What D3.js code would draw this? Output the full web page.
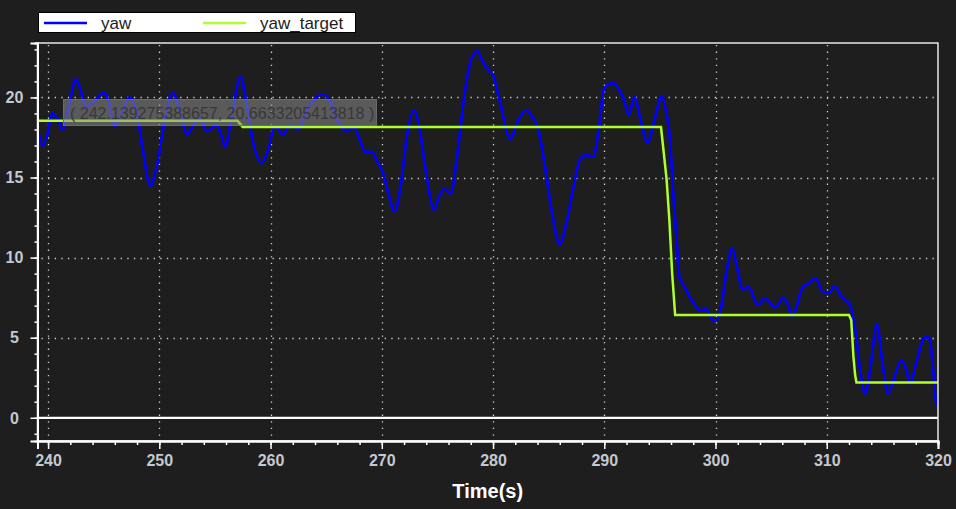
<!DOCTYPE html>
<html>
<head>
<meta charset="utf-8">
<script src="https://cdn.jsdelivr.net/npm/d3@7"></script>
<style>
  body { margin: 0; background: #1e1e1e; }
  svg { display: block; }
</style>
</head>
<body>
<svg id="chart" width="956" height="509"></svg>
<script>
// yaw samples (time in s, value)
var yawTime = [239.05,239.5,239.9,240.4,240.9,241.3,241.8,242.5,243.0,243.4,244.2,245.0,245.5,246.0,246.6,247.3,247.9,248.5,249.2,249.8,250.5,251.2,251.8,252.5,253.0,253.6,254.3,255.1,255.5,255.9,256.5,257.3,257.8,258.4,259.2,259.8,260.4,261.1,261.8,262.4,263.5,264.7,265.3,266.0,266.8,267.5,268.0,268.5,269.1,269.6,270.1,270.6,271.15,271.7,272.3,272.9,273.4,274.0,274.7,275.2,275.6,276.2,276.8,277.4,278.0,278.6,279.1,279.7,280.0,280.6,281.55,282.2,283.0,283.6,284.0,284.6,285.3,286.0,286.6,287.2,287.8,288.3,289.0,289.5,290.0,290.8,291.3,291.7,292.2,292.7,293.2,293.9,294.4,295.2,295.5,295.9,296.2,296.5,296.75,297.2,297.95,298.7,299.2,299.6,300.0,300.5,301.0,301.5,301.9,302.45,302.95,303.8,304.45,305.4,306.1,306.5,306.9,307.3,307.8,308.4,309.0,309.7,310.2,310.7,311.4,312.05,312.6,313.0,313.45,313.9,314.5,315.0,315.5,316.1,316.7,317.1,317.5,318.1,318.8,319.2,319.5,319.8,320];
var yawValues = [18.3,17.0,17.6,19.0,18.6,18.0,19.2,21.15,20.3,19.4,19.8,20.3,19.6,18.2,19.0,20.0,19.3,16.8,14.5,15.8,18.6,20.3,19.3,17.7,18.2,18.7,17.9,18.3,17.8,16.9,18.8,21.3,19.8,17.3,15.9,16.8,18.2,17.7,18.3,18.0,19.5,20.2,19.8,18.6,17.9,18.15,17.4,16.6,16.6,16.0,15.3,14.0,12.9,14.5,17.8,19.2,18.0,15.2,13.0,13.9,14.3,14.0,16.5,20.0,22.3,22.9,22.2,21.6,21.4,19.8,17.4,18.5,19.2,18.7,18.2,16.0,12.8,10.85,12.2,14.3,16.1,16.4,16.3,18.0,20.6,20.9,20.5,20.0,18.9,20.0,18.8,17.15,18.3,20.1,19.3,17.4,14.0,11.1,8.8,8.2,7.25,6.7,6.8,6.2,6.05,6.9,9.2,10.6,9.5,8.0,8.2,7.05,7.45,6.9,7.5,7.1,6.3,7.0,8.1,8.4,8.7,7.8,7.8,8.2,7.5,7.1,5.3,3.0,1.5,3.0,5.85,3.5,1.5,2.6,3.6,3.1,2.15,3.6,5.0,5.0,3.5,1.1,0.7];

var targetTime = [239.05,257.04,257.5,295.1,295.2,295.6,295.85,296.1,296.37,312.0,312.2,312.4,312.55,312.67,320];
var targetValues = [18.54,18.54,18.15,18.15,17.5,14.9,12.35,9.04,6.42,6.42,6.1,3.8,2.67,2.21,2.21];

var seriesNames = ["yaw", "yaw_target"];
var seriesColors = ["#0000ff", "#adff2f"];
var xTicks = [240,250,260,270,280,290,300,310,320];
var yTicks = [0,5,10,15,20];
var tooltipText = "( 242.139275388657, 20.6633205413818 )";

var plotLeft = 37.5, plotRight = 938, plotTop = 43, plotBottom = 441;

var svg = d3.select("#chart");
svg.append("rect").attr("width", 956).attr("height", 509).attr("fill", "#1e1e1e");

var x = d3.scaleLinear().domain([239.05, 320]).range([plotLeft, plotRight]);
var y = d3.scaleLinear().domain([-1.45, 23.4]).range([plotBottom, plotTop]);

svg.append("clipPath").attr("id", "plotClip")
  .append("rect").attr("x", plotLeft).attr("y", plotTop)
  .attr("width", plotRight - plotLeft).attr("height", plotBottom - plotTop);

// dotted grid
var grid = svg.append("g").attr("stroke", "#d0d0d0").attr("stroke-width", 1.3)
  .attr("stroke-dasharray", "1.3,5.3");
grid.selectAll(".vg").data(xTicks.filter(function(d){ return d < 320; }))
  .enter().append("line")
  .attr("x1", function(d){ return Math.round(x(d)) + 0.5; })
  .attr("x2", function(d){ return Math.round(x(d)) + 0.5; })
  .attr("y1", plotTop + 2).attr("y2", plotBottom);
grid.selectAll(".hg").data(yTicks.filter(function(d){ return d > 0; }))
  .enter().append("line")
  .attr("y1", function(d){ return Math.round(y(d)) + 0.5; })
  .attr("y2", function(d){ return Math.round(y(d)) + 0.5; })
  .attr("x1", plotLeft + 4).attr("x2", plotRight);

// zero line
svg.append("line").attr("x1", plotLeft).attr("x2", plotRight)
  .attr("y1", y(0)).attr("y2", y(0))
  .attr("stroke", "#ffffff").attr("stroke-width", 2.2);

// series
var plot = svg.append("g").attr("clip-path", "url(#plotClip)");
var yawData = yawTime.map(function(t, i){ return [t, yawValues[i]]; });
var targetData = targetTime.map(function(t, i){ return [t, targetValues[i]]; });

var smooth = d3.line().x(function(d){ return x(d[0]); }).y(function(d){ return y(d[1]); })
  .curve(d3.curveMonotoneX);
var straight = d3.line().x(function(d){ return x(d[0]); }).y(function(d){ return y(d[1]); });

plot.append("path").attr("d", smooth(yawData))
  .attr("fill", "none").attr("stroke", seriesColors[0]).attr("stroke-width", 2.7)
  .attr("stroke-linejoin", "round");
plot.append("path").attr("d", straight(targetData))
  .attr("fill", "none").attr("stroke", seriesColors[1]).attr("stroke-width", 2.5);

// frame
svg.append("rect").attr("x", plotLeft).attr("y", plotTop)
  .attr("width", plotRight - plotLeft).attr("height", plotBottom - plotTop)
  .attr("fill", "none").attr("stroke", "#e8e8e8").attr("stroke-width", 1.5);

// x axis
var xAxis = svg.append("g").attr("transform", "translate(0," + plotBottom + ")");
xAxis.call(d3.axisBottom(x).tickValues(d3.range(240, 321, 2)).tickSize(4).tickFormat(""));
xAxis.append("g").call(d3.axisBottom(x).tickValues(xTicks).tickSize(8).tickPadding(6));
xAxis.selectAll("path.domain").attr("stroke", "#ffffff").attr("stroke-width", 2);
xAxis.selectAll("line").attr("stroke", "#ffffff").attr("stroke-width", 1.5);
xAxis.selectAll("text").attr("fill", "#c4c8d0")
  .style("font-family", "'Liberation Sans Narrow', 'Liberation Sans', Arial, sans-serif")
  .style("font-weight", "bold").style("font-size", "16px");

// y axis
var yAxis = svg.append("g").attr("transform", "translate(" + plotLeft + ",0)");
yAxis.call(d3.axisLeft(y).tickValues(d3.range(-1, 24, 1)).tickSize(3).tickFormat(""));
yAxis.append("g").call(d3.axisLeft(y).tickValues(yTicks).tickSize(7).tickFormat(""));
yAxis.selectAll("path.domain").attr("stroke", "#ffffff").attr("stroke-width", 2);
yAxis.selectAll("line").attr("stroke", "#ffffff").attr("stroke-width", 1.5);
svg.selectAll(".ylab").data(yTicks).enter().append("text")
  .attr("x", 14.5).attr("y", function(d){ return y(d); }).attr("dy", "0.36em")
  .attr("text-anchor", "middle").attr("fill", "#c4c8d0")
  .style("font-family", "'Liberation Sans', Arial, sans-serif")
  .style("font-weight", "bold").style("font-size", "16px")
  .text(function(d){ return d; });

// axis title
svg.append("text").attr("x", (plotLeft + plotRight) / 2).attr("y", 498)
  .attr("text-anchor", "middle").attr("fill", "#ffffff")
  .style("font-family", "'Liberation Sans', Arial, sans-serif")
  .style("font-weight", "bold").style("font-size", "20px")
  .text("Time(s)");

// legend
var legend = svg.append("g");
legend.append("rect").attr("x", 38.5).attr("y", 12.5).attr("width", 317).attr("height", 20)
  .attr("fill", "#ffffff").attr("stroke", "#000000").attr("stroke-width", 1);
var legX = [44, 203];
seriesNames.forEach(function(name, i){
  legend.append("line").attr("x1", legX[i]).attr("x2", legX[i] + 43)
    .attr("y1", 23).attr("y2", 23)
    .attr("stroke", seriesColors[i]).attr("stroke-width", 2.5);
  legend.append("text").attr("x", legX[i] + 57).attr("y", 28.5)
    .attr("fill", "#222222")
    .style("font-family", "'Liberation Sans', Arial, sans-serif")
    .style("font-size", "17px").text(name);
});

// tooltip box
svg.append("rect").attr("x", 63.5).attr("y", 99.5).attr("width", 313).attr("height", 26)
  .attr("fill", "#8c8c8c").attr("fill-opacity", 0.55)
  .attr("stroke", "#6a6a6a").attr("stroke-width", 1);
svg.append("text").attr("x", 70).attr("y", 119)
  .attr("fill", "#383838")
  .style("font-family", "'Liberation Sans', Arial, sans-serif")
  .style("font-size", "16px").text(tooltipText);
</script>
</body>
</html>
